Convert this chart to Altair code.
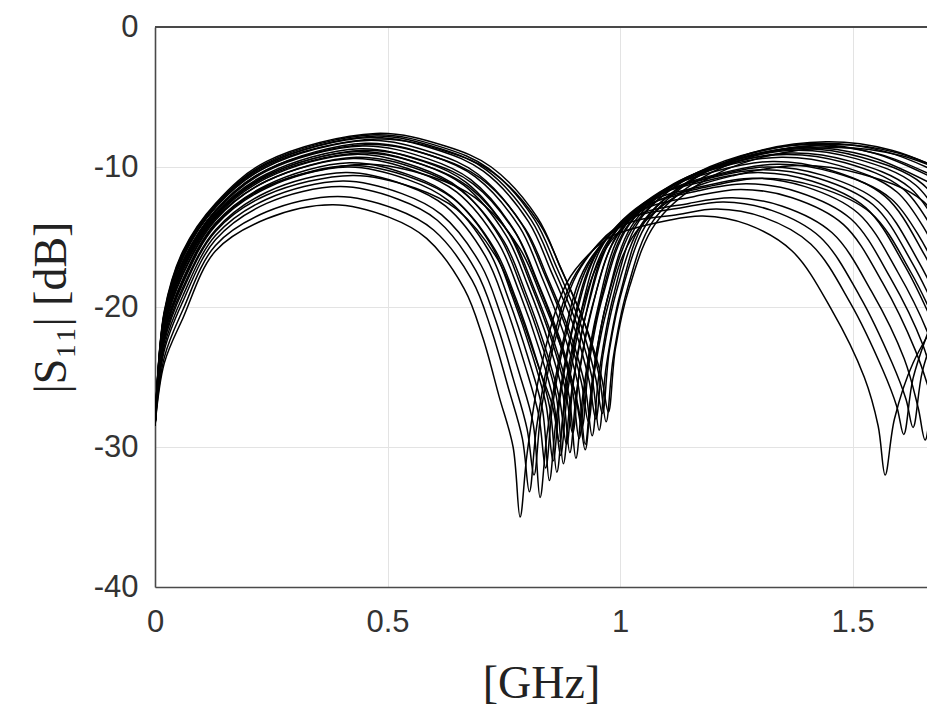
import altair as alt
import pandas as pd

# ---- data: one list of frequencies [GHz] and one of |S11| [dB] per curve ----
X01 = [0, 0.02, 0.06, 0.13, 0.24, 0.383, 0.504, 0.584, 0.665, 0.705, 0.74, 0.77, 0.785, 0.80, 0.83, 0.885, 0.94, 0.985, 1.105, 1.178, 1.274, 1.37, 1.455, 1.525, 1.555, 1.57, 1.59, 1.63, 1.70]
Y01 = [-28.5, -24.0, -20.8, -16.0, -13.7, -12.7, -13.6, -15.1, -18.7, -22.2, -26.4, -30.0, -35.0, -30.5, -24.3, -18.3, -16.0, -14.9, -13.8, -13.5, -14.1, -16.0, -20.2, -25.0, -28.5, -32.0, -28.0, -24.0, -20.0]
X02 = [0, 0.02, 0.06, 0.13, 0.24, 0.393, 0.517, 0.599, 0.682, 0.723, 0.76, 0.79, 0.805, 0.82, 0.85, 0.905, 1.005, 1.125, 1.208, 1.309, 1.41, 1.495, 1.565, 1.595, 1.61, 1.63, 1.67]
Y02 = [-28.5, -23.6, -20.2, -15.6, -13.2, -12.1, -13.0, -14.5, -18.1, -21.6, -25.8, -29.4, -33.2, -28.7, -23.2, -17.6, -14.2, -13.4, -13.0, -13.6, -15.5, -19.7, -24.5, -27.1, -29.1, -25.1, -21.1]
X03 = [0, 0.02, 0.06, 0.13, 0.24, 0.398, 0.523, 0.607, 0.69, 0.732, 0.77, 0.80, 0.815, 0.83, 0.86, 0.915, 1.015, 1.135, 1.223, 1.326, 1.43, 1.515, 1.585, 1.615, 1.63, 1.65, 1.69]
Y03 = [-28.5, -23.1, -19.6, -15.2, -12.6, -11.4, -12.3, -13.8, -17.4, -20.9, -25.1, -28.7, -32.0, -27.5, -22.4, -17.2, -13.8, -12.9, -12.5, -13.1, -15.0, -19.2, -24.0, -26.6, -28.6, -24.6, -20.6]
X04 = [0, 0.02, 0.06, 0.13, 0.24, 0.404, 0.531, 0.616, 0.701, 0.743, 0.783, 0.813, 0.828, 0.843, 0.873, 0.928, 1.028, 1.148, 1.242, 1.349, 1.456, 1.541, 1.611, 1.641, 1.656, 1.676, 1.716]
Y04 = [-28.5, -22.8, -19.2, -14.9, -12.3, -11.0, -11.9, -13.4, -17.0, -20.5, -24.7, -28.3, -33.6, -29.1, -23.1, -17.0, -13.6, -12.6, -12.2, -12.8, -14.7, -18.9, -23.7, -27.2, -29.5, -25.5, -21.5]
X05 = [0, 0.02, 0.06, 0.13, 0.24, 0.41, 0.539, 0.625, 0.711, 0.754, 0.795, 0.825, 0.84, 0.855, 0.885, 0.94, 1.04, 1.16, 1.26, 1.37, 1.48, 1.565, 1.635, 1.665, 1.68, 1.70]
Y05 = [-28.5, -22.3, -18.6, -14.5, -11.8, -10.4, -11.3, -12.8, -16.4, -19.9, -24.1, -27.7, -31.5, -27.0, -21.8, -16.5, -13.2, -12.1, -11.6, -12.2, -14.1, -18.3, -23.1, -26.0, -28.0, -24.0]
X06 = [0, 0.02, 0.06, 0.13, 0.24, 0.414, 0.544, 0.631, 0.718, 0.761, 0.803, 0.833, 0.848, 0.863, 0.893, 0.948, 1.048, 1.168, 1.272, 1.384, 1.496, 1.581, 1.651, 1.681, 1.696]
Y06 = [-28.5, -22.1, -18.3, -14.2, -11.5, -10.0, -10.9, -12.4, -16.0, -19.5, -23.7, -27.3, -32.4, -27.9, -22.1, -16.2, -12.9, -11.7, -11.2, -11.8, -13.7, -17.9, -22.7, -26.2, -28.0]
X07 = [0, 0.02, 0.06, 0.13, 0.24, 0.418, 0.549, 0.637, 0.725, 0.768, 0.811, 0.841, 0.856, 0.871, 0.901, 0.956, 1.056, 1.176, 1.284, 1.398, 1.512, 1.597, 1.667, 1.697]
Y07 = [-28.5, -21.8, -18.0, -14.0, -11.3, -9.7, -10.6, -12.1, -15.7, -19.2, -23.4, -27.0, -31.0, -26.5, -21.2, -15.8, -12.6, -11.4, -10.8, -11.4, -13.3, -17.5, -22.3, -25.8]
X08 = [0, 0.02, 0.06, 0.13, 0.24, 0.422, 0.555, 0.643, 0.731, 0.776, 0.819, 0.849, 0.864, 0.879, 0.909, 0.964, 1.064, 1.184, 1.296, 1.412, 1.528, 1.613, 1.683]
Y08 = [-28.5, -22.0, -18.2, -14.1, -11.4, -9.9, -10.8, -12.3, -15.9, -19.4, -23.6, -27.2, -31.8, -27.3, -21.4, -15.5, -12.3, -11.0, -10.4, -11.0, -12.9, -17.1, -21.9]
X09 = [0, 0.02, 0.06, 0.13, 0.24, 0.426, 0.56, 0.649, 0.738, 0.783, 0.827, 0.857, 0.872, 0.887, 0.917, 0.972, 1.072, 1.192, 1.308, 1.426, 1.544, 1.629, 1.699]
Y09 = [-28.5, -21.6, -17.7, -13.8, -11.0, -9.4, -10.3, -11.8, -15.4, -18.9, -23.1, -26.7, -30.6, -26.1, -20.8, -15.4, -12.2, -10.8, -10.2, -10.8, -12.7, -16.9, -21.7]
X10 = [0, 0.02, 0.06, 0.13, 0.24, 0.429, 0.564, 0.654, 0.743, 0.788, 0.833, 0.863, 0.878, 0.893, 0.923, 0.978, 1.078, 1.198, 1.317, 1.437, 1.556, 1.641, 1.711]
Y10 = [-28.5, -21.4, -17.4, -13.6, -10.8, -9.1, -10.0, -11.5, -15.1, -18.6, -22.8, -26.4, -31.2, -26.7, -21.0, -15.2, -12.1, -10.7, -10.0, -10.6, -12.5, -16.7, -21.5]
X11 = [0, 0.02, 0.06, 0.13, 0.24, 0.433, 0.569, 0.659, 0.75, 0.795, 0.84, 0.87, 0.885, 0.90, 0.93, 0.985, 1.085, 1.205, 1.328, 1.449, 1.57, 1.655, 1.725]
Y11 = [-28.5, -21.5, -17.6, -13.7, -11.0, -9.3, -10.2, -11.7, -15.3, -18.8, -23.0, -26.6, -29.8, -25.3, -20.1, -14.9, -11.8, -10.3, -9.6, -10.2, -12.1, -16.3, -21.1]
X12 = [0, 0.02, 0.06, 0.13, 0.24, 0.436, 0.573, 0.664, 0.755, 0.801, 0.847, 0.877, 0.892, 0.907, 0.937, 0.992, 1.092, 1.212, 1.338, 1.461, 1.584, 1.669]
Y12 = [-28.5, -21.3, -17.2, -13.5, -10.6, -8.9, -9.8, -11.3, -14.9, -18.4, -22.6, -26.2, -30.4, -25.9, -20.5, -15.0, -11.9, -10.5, -9.8, -10.4, -12.3, -16.5]
X13 = [0, 0.02, 0.06, 0.13, 0.24, 0.439, 0.577, 0.669, 0.76, 0.806, 0.853, 0.883, 0.898, 0.913, 0.943, 0.998, 1.098, 1.218, 1.347, 1.472, 1.596, 1.681]
Y13 = [-28.5, -21.1, -17.0, -13.3, -10.5, -8.7, -9.6, -11.1, -14.7, -18.2, -22.4, -26.0, -29.0, -24.5, -19.6, -14.6, -11.6, -10.0, -9.3, -9.9, -11.8, -16.0]
X14 = [0, 0.02, 0.06, 0.13, 0.24, 0.443, 0.582, 0.674, 0.767, 0.813, 0.86, 0.89, 0.905, 0.92, 0.95, 1.005, 1.105, 1.225, 1.358, 1.484, 1.61, 1.695]
Y14 = [-28.5, -21.3, -17.3, -13.5, -10.7, -9.0, -9.9, -11.4, -15.0, -18.5, -22.7, -26.3, -30.8, -26.3, -20.4, -14.5, -11.4, -9.8, -9.1, -9.7, -11.6, -15.8]
X15 = [0, 0.02, 0.06, 0.13, 0.24, 0.446, 0.586, 0.679, 0.772, 0.819, 0.867, 0.897, 0.912, 0.927, 0.957, 1.012, 1.112, 1.232, 1.368, 1.496, 1.624, 1.709]
Y15 = [-28.5, -21.0, -16.9, -13.2, -10.3, -8.5, -9.4, -10.9, -14.5, -18.0, -22.2, -25.8, -29.4, -24.9, -19.7, -14.4, -11.4, -9.8, -9.0, -9.6, -11.5, -15.7]
X16 = [0, 0.02, 0.06, 0.13, 0.24, 0.449, 0.59, 0.684, 0.777, 0.824, 0.873, 0.903, 0.918, 0.933, 0.963, 1.018, 1.118, 1.238, 1.377, 1.507, 1.636, 1.721]
Y16 = [-28.5, -21.2, -17.1, -13.4, -10.6, -8.8, -9.7, -11.2, -14.8, -18.3, -22.5, -26.1, -28.6, -24.1, -19.2, -14.2, -11.2, -9.6, -8.8, -9.4, -11.3, -15.5]
X17 = [0, 0.02, 0.06, 0.13, 0.24, 0.453, 0.595, 0.689, 0.784, 0.831, 0.88, 0.91, 0.925, 0.94, 0.97, 1.025, 1.125, 1.245, 1.388, 1.519, 1.65, 1.735]
Y17 = [-28.5, -20.8, -16.7, -13.1, -10.2, -8.3, -9.2, -10.7, -14.3, -17.8, -22.0, -25.6, -29.8, -25.3, -19.8, -14.2, -11.1, -9.5, -8.7, -9.3, -11.2, -15.4]
X18 = [0, 0.02, 0.06, 0.13, 0.24, 0.456, 0.599, 0.694, 0.789, 0.837, 0.887, 0.917, 0.932, 0.947, 0.977, 1.032, 1.132, 1.252, 1.398, 1.531, 1.664]
Y18 = [-28.5, -20.7, -16.5, -12.9, -10.0, -8.1, -9.0, -10.5, -14.1, -17.6, -21.8, -25.4, -28.2, -23.7, -18.9, -14.1, -11.1, -9.4, -8.6, -9.2, -11.1]
X19 = [0, 0.02, 0.06, 0.13, 0.24, 0.46, 0.604, 0.70, 0.796, 0.844, 0.895, 0.925, 0.94, 0.955, 0.985, 1.04, 1.14, 1.26, 1.41, 1.545, 1.68]
Y19 = [-28.5, -20.9, -16.8, -13.1, -10.2, -8.4, -9.3, -10.8, -14.4, -17.9, -22.1, -25.7, -29.2, -24.7, -19.3, -13.9, -10.9, -9.2, -8.4, -9.0, -10.9]
X20 = [0, 0.02, 0.06, 0.13, 0.24, 0.464, 0.609, 0.706, 0.803, 0.851, 0.903, 0.933, 0.948, 0.963, 0.993, 1.048, 1.148, 1.268, 1.422, 1.559, 1.696]
Y20 = [-28.5, -20.5, -16.3, -12.8, -9.8, -7.9, -8.8, -10.3, -13.9, -17.4, -21.6, -25.2, -28.0, -23.5, -18.8, -14.0, -11.0, -9.3, -8.5, -9.1, -11.0]
X21 = [0, 0.02, 0.06, 0.13, 0.24, 0.468, 0.614, 0.712, 0.809, 0.858, 0.91, 0.94, 0.955, 0.97, 1.0, 1.055, 1.155, 1.275, 1.433, 1.571, 1.71]
Y21 = [-28.5, -20.5, -16.2, -12.7, -9.8, -7.8, -8.7, -10.2, -13.8, -17.3, -21.5, -25.1, -28.8, -24.3, -19.1, -13.8, -10.9, -9.1, -8.3, -8.9, -10.8]
X22 = [0, 0.02, 0.06, 0.13, 0.24, 0.471, 0.618, 0.717, 0.815, 0.864, 0.917, 0.947, 0.962, 0.977, 1.007, 1.062, 1.162, 1.282, 1.443, 1.584, 1.724]
Y22 = [-28.5, -20.4, -16.1, -12.7, -9.7, -7.7, -8.6, -10.1, -13.7, -17.2, -21.4, -25.0, -27.6, -23.1, -18.5, -13.8, -10.8, -9.0, -8.2, -8.8, -10.7]
X23 = [0, 0.02, 0.06, 0.13, 0.24, 0.475, 0.624, 0.723, 0.822, 0.871, 0.925, 0.955, 0.97, 0.985, 1.015, 1.07, 1.17, 1.29, 1.455, 1.598, 1.74]
Y23 = [-28.5, -20.3, -16.0, -12.6, -9.6, -7.6, -8.5, -10.0, -13.6, -17.1, -21.3, -24.9, -28.2, -23.7, -18.8, -13.9, -10.9, -9.2, -8.4, -9.0, -10.9]
X24 = [0, 0.02, 0.06, 0.13, 0.24, 0.478, 0.627, 0.727, 0.826, 0.876, 0.93, 0.96, 0.975, 0.99, 1.02, 1.075, 1.175, 1.295, 1.463, 1.606, 1.75]
Y24 = [-28.5, -20.6, -16.4, -12.9, -9.9, -8.0, -8.9, -10.4, -14.0, -17.5, -21.7, -25.0, -27.5, -23.0, -18.6, -14.1, -11.1, -9.4, -8.6, -9.2, -11.1]
X25 = [0, 0.02, 0.06, 0.13, 0.24, 0.453, 0.595, 0.689, 0.784, 0.831, 0.88, 0.91, 0.925, 0.94, 0.97, 1.025, 1.125, 1.245, 1.388, 1.519, 1.65, 1.735]
Y25 = [-28.5, -21.9, -18.1, -14.1, -11.4, -9.8, -10.7, -12.2, -15.8, -19.3, -23.5, -27.1, -30.2, -25.7, -20.4, -15.1, -12.0, -10.6, -9.9, -10.5, -12.4, -16.6]
X26 = [0, 0.02, 0.06, 0.13, 0.24, 0.425, 0.559, 0.648, 0.737, 0.781, 0.825, 0.855, 0.87, 0.885, 0.915, 0.97, 1.07, 1.19, 1.305, 1.423, 1.54, 1.625, 1.695]
Y26 = [-28.5, -22.5, -18.8, -14.6, -12.0, -10.6, -11.5, -13.0, -16.6, -20.1, -24.3, -27.1, -29.6, -25.1, -20.5, -15.8, -12.6, -11.4, -10.8, -11.4, -13.3, -17.5, -22.3]

X_TICKS = [0, 0.5, 1, 1.5]
Y_TICKS = [0, -10, -20, -30, -40]
X_DOMAIN = [0, 1.66]
Y_DOMAIN = [-40, 0]
X_TITLE = "[GHz]"
Y_TITLE = "|S\u2081\u2081| [dB]"

CURVES = [
    (X01, Y01), (X02, Y02), (X03, Y03), (X04, Y04), (X05, Y05), (X06, Y06),
    (X07, Y07), (X08, Y08), (X09, Y09), (X10, Y10), (X11, Y11), (X12, Y12),
    (X13, Y13), (X14, Y14), (X15, Y15), (X16, Y16), (X17, Y17), (X18, Y18),
    (X19, Y19), (X20, Y20), (X21, Y21), (X22, Y22), (X23, Y23), (X24, Y24),
    (X25, Y25), (X26, Y26),
]

rows = []
for i, (xs, ys) in enumerate(CURVES):
    for order, (x, y) in enumerate(zip(xs, ys)):
        rows.append({"curve": f"c{i + 1:02d}", "f": x, "s11": y, "o": order})
df = pd.DataFrame(rows)

x_scale = alt.Scale(domain=X_DOMAIN, nice=False, zero=False)
y_scale = alt.Scale(domain=Y_DOMAIN, nice=False, zero=False)

label_font = "Liberation Sans"
title_font = "Liberation Serif"
axis_gray = "#4a4a4a"

lines = alt.Chart(df).mark_line(
    interpolate="catmull-rom", color="black", strokeWidth=1.5, clip=True
).encode(
    x=alt.X(
        "f:Q", scale=x_scale,
        axis=alt.Axis(
            values=X_TICKS, labelExpr="datum.value + ''", title=X_TITLE,
            grid=True, gridColor="#e3e3e3", gridWidth=1,
            ticks=False, tickSize=0, domainColor=axis_gray, domainWidth=1.6,
            labelFont=label_font, labelFontSize=31, labelColor="#333333",
            labelPadding=20, labelFlush=False,
            titleFont=title_font, titleFontSize=46, titleFontWeight="normal",
            titleColor="#222222", titlePadding=24,
        ),
    ),
    y=alt.Y(
        "s11:Q", scale=y_scale,
        axis=alt.Axis(
            values=Y_TICKS, labelExpr="datum.value + ''", title=Y_TITLE,
            grid=True, gridColor="#e3e3e3", gridWidth=1,
            ticks=False, tickSize=0, domainColor=axis_gray, domainWidth=1.6,
            labelFont=label_font, labelFontSize=31, labelColor="#333333",
            labelPadding=17, labelFlush=False,
            titleFont=title_font, titleFontSize=46, titleFontWeight="normal",
            titleColor="#222222", titlePadding=18,
        ),
    ),
    detail="curve:N",
    order="o:Q",
)

# top edge of the axes box (the right edge lies outside the cropped picture)
top_frame = alt.Chart(df).mark_rule(color=axis_gray, strokeWidth=1.6).encode(
    x=alt.datum(X_DOMAIN[0]),
    x2=alt.datum(X_DOMAIN[1]),
    y=alt.datum(Y_DOMAIN[1]),
)

chart = alt.layer(lines, top_frame).properties(
    width=772, height=560,
    autosize=alt.AutoSizeParams(type="none"),
    padding={"left": 155, "top": 27, "right": 0, "bottom": 127},
    background="white",
).configure_view(stroke=None)

chart.save("out.html", embed_options={"renderer": "svg", "actions": False})
